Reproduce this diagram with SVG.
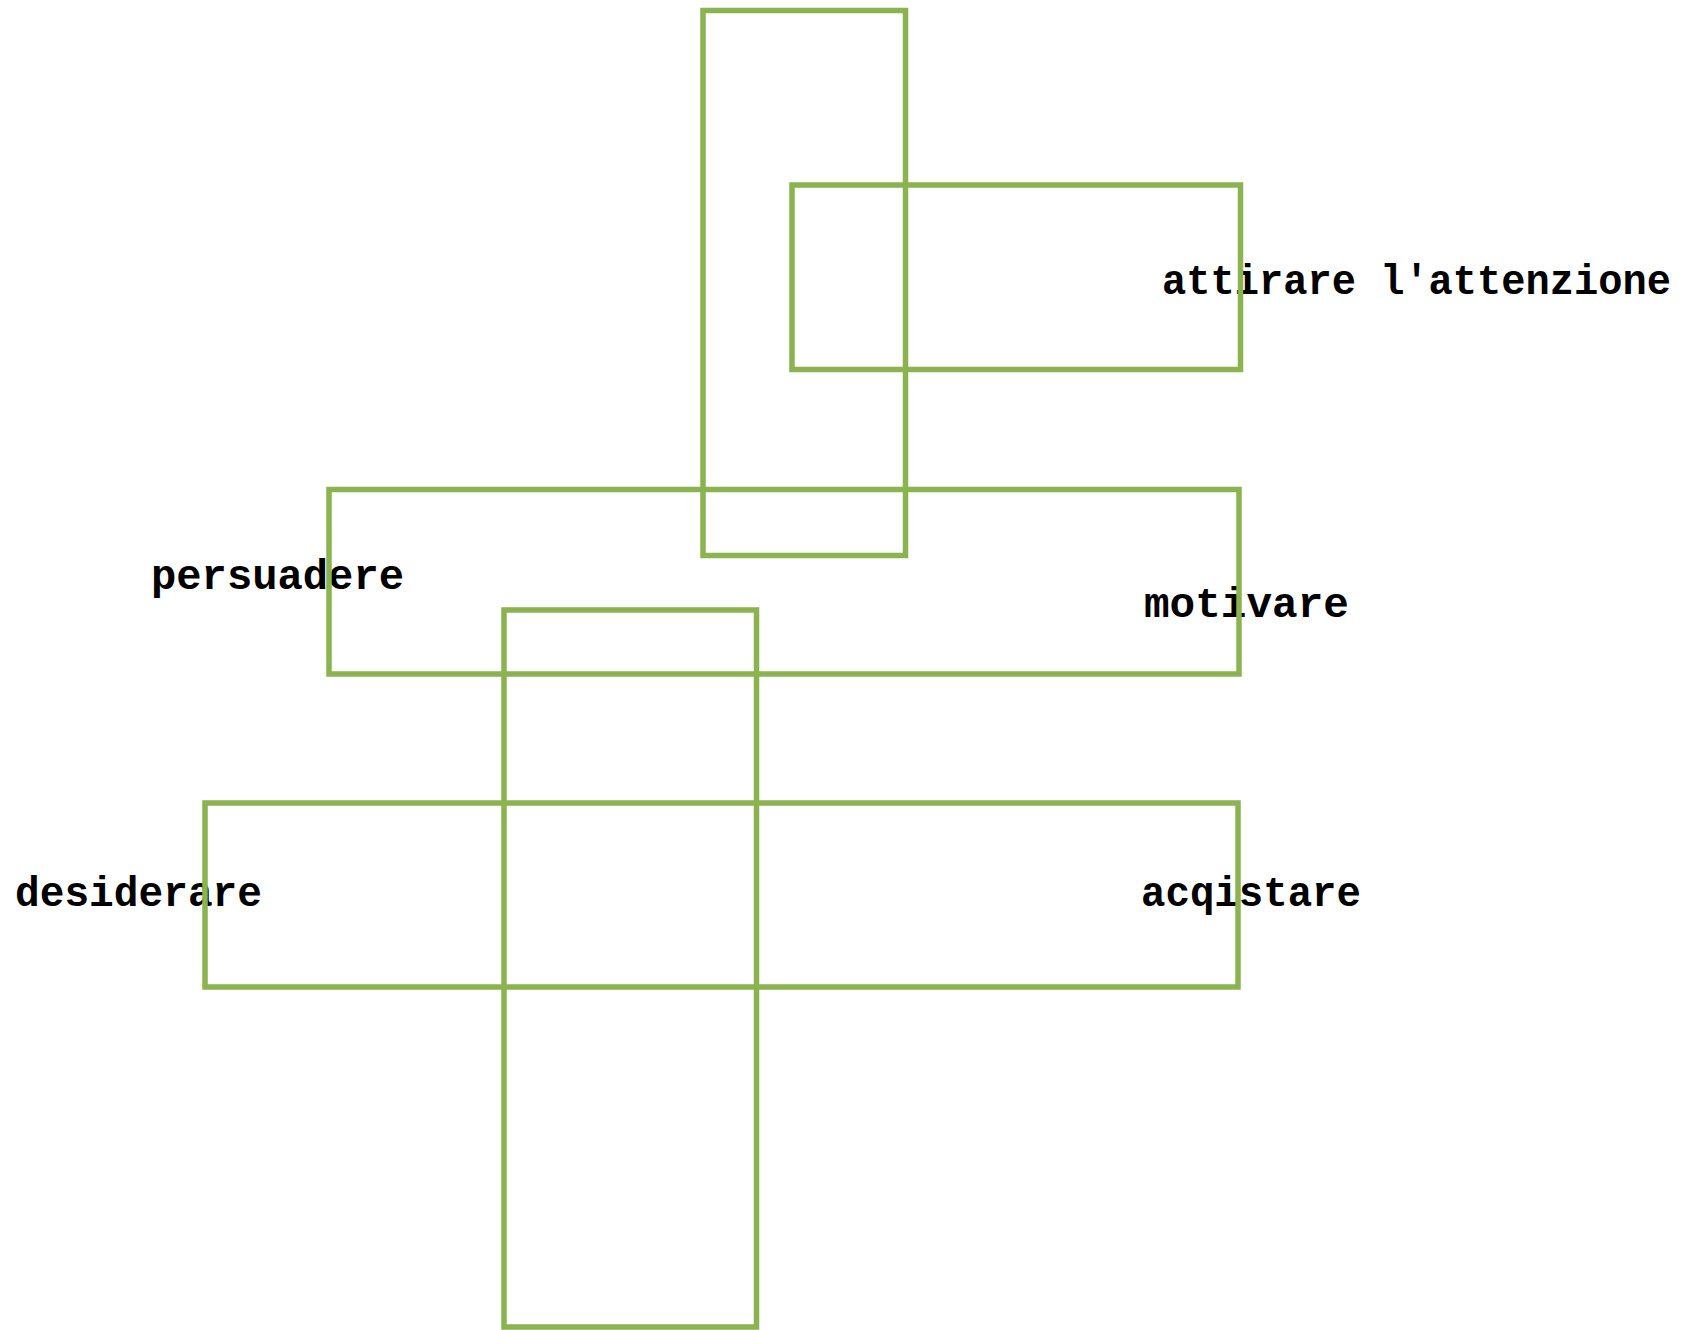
<svg xmlns="http://www.w3.org/2000/svg" width="1688" height="1330" viewBox="0 0 1688 1330">
  <style>
    .box { fill: none; stroke: #8bb34f; stroke-width: 5.5; }
    .label { font-family: "Liberation Mono", "DejaVu Sans Mono", monospace; font-weight: bold; font-size: 42px; fill: #000; }
  </style>
  <rect width="1688" height="1330" fill="#ffffff"/>

  <!-- stage labels -->
  <g id="labels">
    <text id="label-attention" class="label" x="1162" y="294" textLength="509" lengthAdjust="spacingAndGlyphs">attirare l'attenzione</text>
    <text id="label-persuade" class="label" x="151" y="589" textLength="253" lengthAdjust="spacingAndGlyphs">persuadere</text>
    <text id="label-motivate" class="label" x="1144" y="617" textLength="205" lengthAdjust="spacingAndGlyphs">motivare</text>
    <text id="label-desire" class="label" x="15" y="906" textLength="247" lengthAdjust="spacingAndGlyphs">desiderare</text>
    <text id="label-buy" class="label" x="1141" y="906" textLength="220" lengthAdjust="spacingAndGlyphs">acqistare</text>
  </g>

  <!-- outlined boxes -->
  <g id="box-top-tall"><rect class="box" x="703" y="10.5" width="202.5" height="545"/></g>
  <g id="box-attention"><rect class="box" x="792" y="185" width="448.5" height="184.5"/></g>
  <g id="box-middle"><rect class="box" x="329" y="489.5" width="910" height="184.5"/></g>
  <g id="box-bottom-tall"><rect class="box" x="504" y="610" width="252.5" height="717"/></g>
  <g id="box-bottom-wide"><rect class="box" x="205" y="803" width="1033" height="184"/></g>

  <!-- no connectors are drawn -->
  <g id="connectors"></g>
</svg>
